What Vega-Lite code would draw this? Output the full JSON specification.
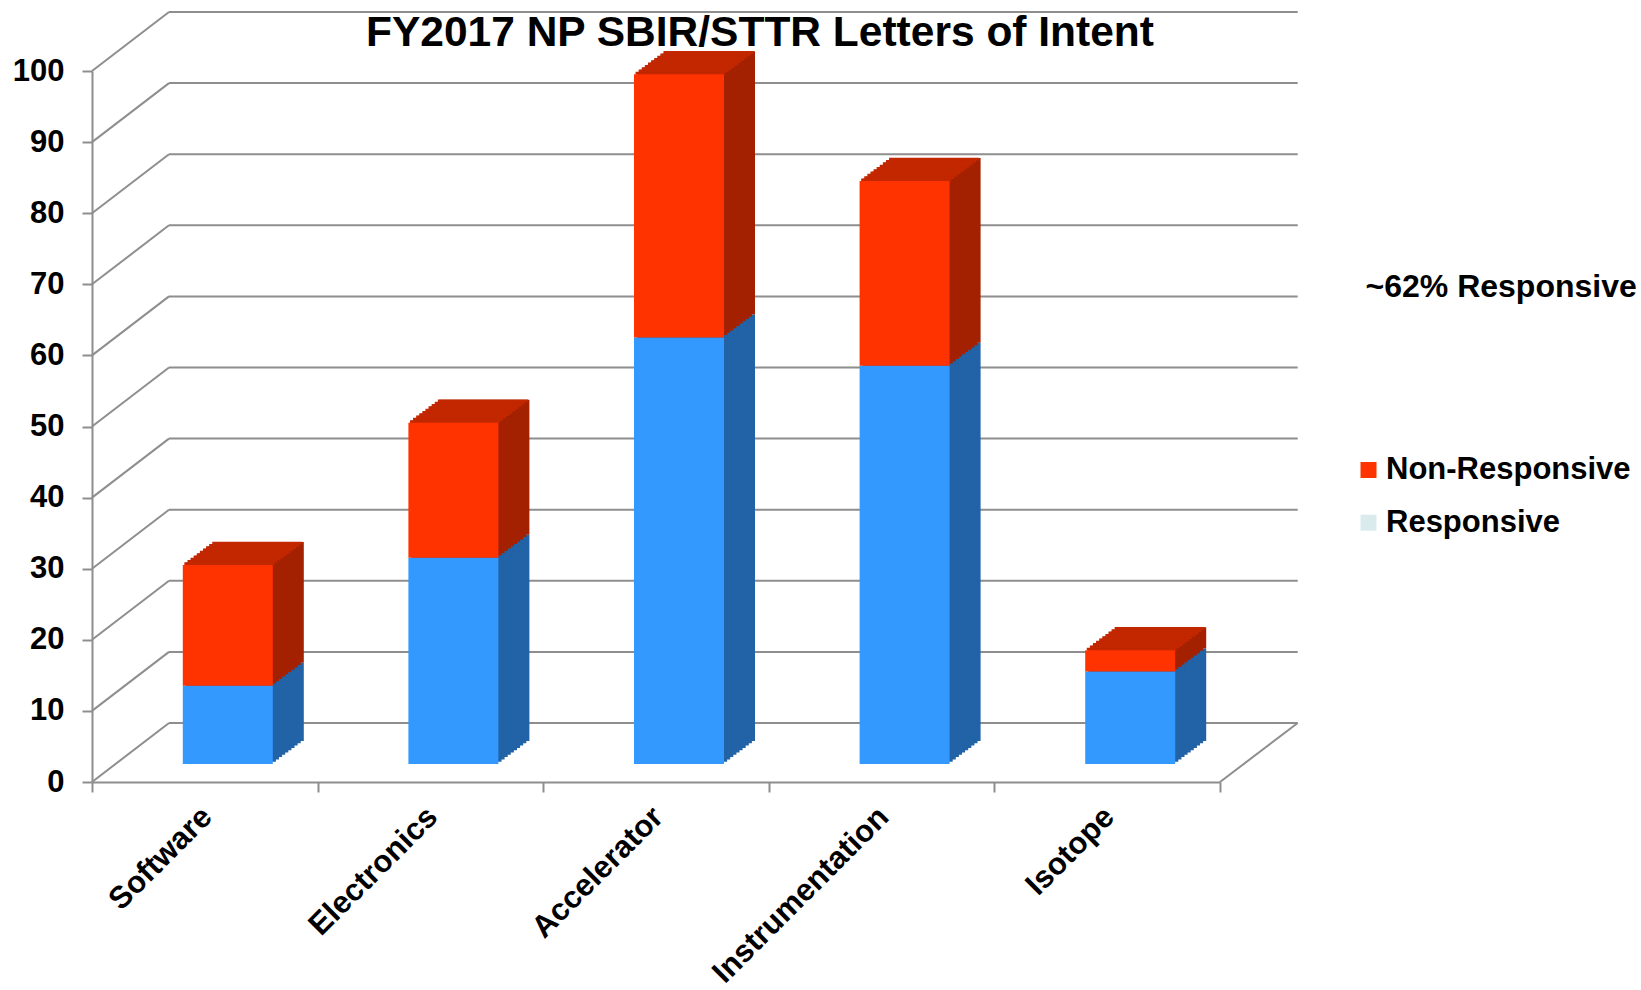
{
 "$schema": "https://vega.github.io/schema/vega-lite/v6.json",
 "width": 1128,
 "height": 711,
 "autosize": {"type": "none"},
 "padding": {"left": 92, "top": 71, "right": 421, "bottom": 208},
 "title": {"text": "FY2017 NP SBIR/STTR Letters of Intent", "font": "Liberation Sans", "fontSize": 42.5, "fontWeight": "bold", "color": "black", "anchor": "middle", "frame": "group", "dx": 104, "dy": 43, "offset": 0},
 "datasets": {
  "bars": [
   {"category": "Software", "status": "Responsive", "count": 11, "ord": 1},
   {"category": "Software", "status": "Non-Responsive", "count": 17, "ord": 2},
   {"category": "Electronics", "status": "Responsive", "count": 29, "ord": 1},
   {"category": "Electronics", "status": "Non-Responsive", "count": 19, "ord": 2},
   {"category": "Accelerator", "status": "Responsive", "count": 60, "ord": 1},
   {"category": "Accelerator", "status": "Non-Responsive", "count": 37, "ord": 2},
   {"category": "Instrumentation", "status": "Responsive", "count": 56, "ord": 1},
   {"category": "Instrumentation", "status": "Non-Responsive", "count": 26, "ord": 2},
   {"category": "Isotope", "status": "Responsive", "count": 13, "ord": 1},
   {"category": "Isotope", "status": "Non-Responsive", "count": 3, "ord": 2}
  ],
  "grid": [{"v": 0}, {"v": 10}, {"v": 20}, {"v": 30}, {"v": 40}, {"v": 50}, {"v": 60}, {"v": 70}, {"v": 80}, {"v": 90}, {"v": 100}]
 },
 "layer": [
  {
   "data": {"name": "grid"},
   "mark": {"type": "rule", "color": "#8E8E8E", "strokeWidth": 2, "xOffset": 77, "x2Offset": 77.7, "yOffset": -59},
   "encoding": {
    "x": {"datum": "Software", "type": "nominal", "bandPosition": 0, "title": null, "scale": {"domain": ["Software", "Electronics", "Accelerator", "Instrumentation", "Isotope"], "paddingInner": 0, "paddingOuter": 0}},
    "x2": {"datum": "Isotope", "bandPosition": 1},
    "y": {"field": "v", "type": "quantitative", "title": null, "scale": {"domain": [0, 100], "nice": false}}
   }
  },
  {
   "data": {"name": "grid"},
   "mark": {"type": "rule", "color": "#8E8E8E", "strokeWidth": 2, "x2Offset": 77, "y2Offset": -59},
   "encoding": {
    "x": {"datum": "Software", "type": "nominal", "bandPosition": 0, "title": null, "scale": {"domain": ["Software", "Electronics", "Accelerator", "Instrumentation", "Isotope"], "paddingInner": 0, "paddingOuter": 0}},
    "x2": {"datum": "Software", "bandPosition": 0},
    "y": {"field": "v", "type": "quantitative", "title": null, "scale": {"domain": [0, 100], "nice": false}},
    "y2": {"field": "v"}
   }
  },
  {
   "data": {"values": [{"v": 0}]},
   "mark": {"type": "rule", "color": "#8E8E8E", "strokeWidth": 2, "x2Offset": 77.7, "y2Offset": -59},
   "encoding": {
    "x": {"datum": "Isotope", "type": "nominal", "bandPosition": 1, "title": null, "scale": {"domain": ["Software", "Electronics", "Accelerator", "Instrumentation", "Isotope"], "paddingInner": 0, "paddingOuter": 0}},
    "x2": {"datum": "Isotope", "bandPosition": 1},
    "y": {"field": "v", "type": "quantitative", "title": null, "scale": {"domain": [0, 100], "nice": false}},
    "y2": {"field": "v"}
   }
  },
  {
   "data": {"name": "bars"},
   "mark": {"type": "bar", "width": 90, "opacity": 0, "xOffset": 23, "yOffset": -18},
   "encoding": {
    "x": {"field": "category", "type": "nominal", "title": null, "scale": {"domain": ["Software", "Electronics", "Accelerator", "Instrumentation", "Isotope"], "paddingInner": 0, "paddingOuter": 0}},
    "y": {"field": "count", "type": "quantitative", "stack": "zero", "title": null, "scale": {"domain": [0, 100], "nice": false}},
    "order": {"field": "ord", "type": "quantitative"},
    "color": {"field": "status", "type": "nominal", "scale": {"domain": ["Non-Responsive", "Responsive"], "range": ["#FF3300", "#DAEBEE"]}, "legend": {"orient": "none", "legendX": 1261, "legendY": 383.5, "title": null, "symbolType": "square", "symbolSize": 256, "symbolStrokeWidth": 0, "symbolOpacity": 1, "labelFontSize": 31, "labelFont": "Liberation Sans", "labelFontWeight": "bold", "labelColor": "black", "labelOffset": 2, "rowPadding": 20.7, "padding": 0, "labelLimit": 0}}
   }
  },
  {
   "data": {"name": "bars"},
   "encoding": {
    "x": {"field": "category", "type": "nominal", "title": null, "scale": {"domain": ["Software", "Electronics", "Accelerator", "Instrumentation", "Isotope"], "paddingInner": 0, "paddingOuter": 0}},
    "y": {"field": "count", "type": "quantitative", "stack": "zero", "title": null, "scale": {"domain": [0, 100], "nice": false}},
    "order": {"field": "ord", "type": "quantitative"},
    "detail": {"field": "status"},
    "fill": {"condition": {"test": "datum.status === 'Responsive'", "value": "#2163A6"}, "value": "#A32100"}
   },
   "layer": [
    {"mark": {"type": "bar", "width": 90, "opacity": 1, "xOffset": 54, "yOffset": -41}},
    {"mark": {"type": "bar", "width": 90, "opacity": 1, "xOffset": 50.9, "yOffset": -38.7}},
    {"mark": {"type": "bar", "width": 90, "opacity": 1, "xOffset": 47.8, "yOffset": -36.4}},
    {"mark": {"type": "bar", "width": 90, "opacity": 1, "xOffset": 44.7, "yOffset": -34.1}},
    {"mark": {"type": "bar", "width": 90, "opacity": 1, "xOffset": 41.6, "yOffset": -31.8}},
    {"mark": {"type": "bar", "width": 90, "opacity": 1, "xOffset": 38.5, "yOffset": -29.5}},
    {"mark": {"type": "bar", "width": 90, "opacity": 1, "xOffset": 35.4, "yOffset": -27.2}},
    {"mark": {"type": "bar", "width": 90, "opacity": 1, "xOffset": 32.3, "yOffset": -24.9}},
    {"mark": {"type": "bar", "width": 90, "opacity": 1, "xOffset": 29.2, "yOffset": -22.6}},
    {"mark": {"type": "bar", "width": 90, "opacity": 1, "xOffset": 26.1, "yOffset": -20.3}}
   ]
  },
  {
   "data": {"name": "bars"},
   "encoding": {
    "x": {"field": "category", "type": "nominal", "title": null, "scale": {"domain": ["Software", "Electronics", "Accelerator", "Instrumentation", "Isotope"], "paddingInner": 0, "paddingOuter": 0}},
    "y": {"aggregate": "sum", "field": "count", "type": "quantitative", "title": null, "scale": {"domain": [0, 100], "nice": false}}
   },
   "layer": [
    {"mark": {"type": "tick", "size": 90, "thickness": 2.8, "color": "#C22700", "opacity": 1, "xOffset": 24.55, "yOffset": -19.15}},
    {"mark": {"type": "tick", "size": 90, "thickness": 2.8, "color": "#C22700", "opacity": 1, "xOffset": 27.65, "yOffset": -21.45}},
    {"mark": {"type": "tick", "size": 90, "thickness": 2.8, "color": "#C22700", "opacity": 1, "xOffset": 30.75, "yOffset": -23.75}},
    {"mark": {"type": "tick", "size": 90, "thickness": 2.8, "color": "#C22700", "opacity": 1, "xOffset": 33.85, "yOffset": -26.05}},
    {"mark": {"type": "tick", "size": 90, "thickness": 2.8, "color": "#C22700", "opacity": 1, "xOffset": 36.95, "yOffset": -28.35}},
    {"mark": {"type": "tick", "size": 90, "thickness": 2.8, "color": "#C22700", "opacity": 1, "xOffset": 40.05, "yOffset": -30.65}},
    {"mark": {"type": "tick", "size": 90, "thickness": 2.8, "color": "#C22700", "opacity": 1, "xOffset": 43.15, "yOffset": -32.95}},
    {"mark": {"type": "tick", "size": 90, "thickness": 2.8, "color": "#C22700", "opacity": 1, "xOffset": 46.25, "yOffset": -35.25}},
    {"mark": {"type": "tick", "size": 90, "thickness": 2.8, "color": "#C22700", "opacity": 1, "xOffset": 49.35, "yOffset": -37.55}},
    {"mark": {"type": "tick", "size": 90, "thickness": 2.8, "color": "#C22700", "opacity": 1, "xOffset": 52.45, "yOffset": -39.85}}
   ]
  },
  {
   "data": {"name": "bars"},
   "mark": {"type": "bar", "width": 90, "opacity": 1, "xOffset": 23, "yOffset": -18},
   "encoding": {
    "x": {"field": "category", "type": "nominal", "title": null, "scale": {"domain": ["Software", "Electronics", "Accelerator", "Instrumentation", "Isotope"], "paddingInner": 0, "paddingOuter": 0}},
    "y": {"field": "count", "type": "quantitative", "stack": "zero", "title": null, "scale": {"domain": [0, 100], "nice": false}, "axis": {"values": [0, 10, 20, 30, 40, 50, 60, 70, 80, 90, 100]}},
    "order": {"field": "ord", "type": "quantitative"},
    "detail": {"field": "status"},
    "fill": {"condition": {"test": "datum.status === 'Responsive'", "value": "#3399FF"}, "value": "#FF3300"}
   }
  },
  {
   "data": {"values": [{"label": "~62% Responsive"}]},
   "mark": {"type": "text", "align": "left", "baseline": "alphabetic", "fontSize": 32, "fontWeight": "bold", "font": "Liberation Sans", "color": "black", "xOffset": 145.5},
   "encoding": {
    "text": {"field": "label"},
    "x": {"datum": "Isotope", "type": "nominal", "bandPosition": 1, "title": null, "scale": {"domain": ["Software", "Electronics", "Accelerator", "Instrumentation", "Isotope"], "paddingInner": 0, "paddingOuter": 0}},
    "y": {"datum": 68.26, "type": "quantitative", "title": null, "scale": {"domain": [0, 100], "nice": false}}
   }
  }
 ],
 "config": {
  "view": {"stroke": null},
  "font": "Liberation Sans",
  "axis": {"domainColor": "#8E8E8E", "domainWidth": 2, "tickColor": "#8E8E8E", "tickWidth": 2, "tickSize": 10, "labelFont": "Liberation Sans", "labelFontSize": 31, "labelFontWeight": "bold", "labelColor": "black", "grid": false, "labelLimit": 0},
  "axisX": {"tickBand": "extent", "labelAngle": -45, "labelAlign": "right", "labelBaseline": "middle", "labelPadding": 20, "labelOffset": 2},
  "axisY": {"labelPadding": 18}
 }
}
